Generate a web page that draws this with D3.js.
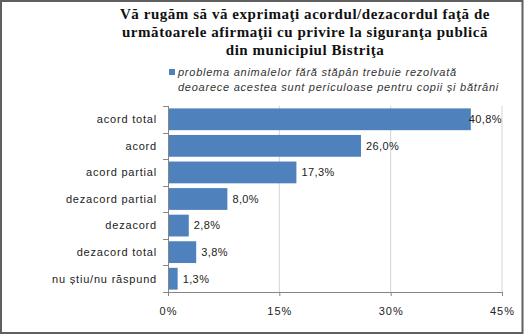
<!DOCTYPE html>
<html>
<head>
<meta charset="utf-8">
<script src="https://cdn.jsdelivr.net/npm/d3@7"></script>
<style>
  html, body { margin: 0; padding: 0; background: #fff; }
  svg { display: block; }
</style>
</head>
<body>
<svg id="chart" width="524" height="335"></svg>
<script>
// Survey answers and their shares (percent)
const categories = ["acord total", "acord", "acord partial", "dezacord partial", "dezacord", "dezacord total", "nu știu/nu răspund"];
const values = [40.8, 26.0, 17.3, 8.0, 2.8, 3.8, 1.3];
const tickValues = [0, 15, 30, 45];
const titleLines = [
  "Vă rugăm să vă exprimaţi acordul/dezacordul faţă de",
  "următoarele afirmaţii cu privire la siguranţa publică",
  "din municipiul Bistriţa"
];
const seriesName = [
  "problema animalelor fără stăpân trebuie rezolvată",
  "deoarece acestea sunt periculoase pentru copii și bătrâni"
];

const svg = d3.select("#chart");
const W = 524, H = 335;
const plot = { left: 168, right: 502, top: 106, bottom: 292 };
const barColor = "#4F81BD";
const labelFont = "'Liberation Sans', Arial, sans-serif";

// outer frame
svg.append("rect")
  .attr("x", 1).attr("y", 1).attr("width", W - 2.5).attr("height", H - 3)
  .attr("fill", "#fff").attr("stroke", "#5f5f5f").attr("stroke-width", 2);

// title
svg.append("g").selectAll("text").data(titleLines).join("text")
  .attr("x", 305).attr("y", (d, i) => 19 + i * 18)
  .attr("text-anchor", "middle")
  .attr("font-family", "'Liberation Serif', 'Times New Roman', serif")
  .attr("font-weight", "bold").attr("font-size", 15)
  .attr("letter-spacing", 0.55)
  .attr("fill", "#111")
  .text(d => d);

// legend
svg.append("rect").attr("x", 169).attr("y", 69).attr("width", 6).attr("height", 6).attr("fill", barColor);
svg.append("g").selectAll("text").data(seriesName).join("text")
  .attr("x", 178).attr("y", (d, i) => 76 + i * 14.5)
  .attr("font-family", labelFont).attr("font-style", "italic").attr("font-size", 11)
  .attr("letter-spacing", 0.75)
  .attr("fill", "#333")
  .text(d => d);

const x = d3.scaleLinear().domain([0, 45]).range([plot.left, plot.right]);
const y = d3.scaleBand().domain(categories).range([plot.top, plot.bottom]).paddingInner(0.18).paddingOuter(0.09);

// vertical gridlines
svg.append("g").selectAll("line").data(tickValues.filter(t => t > 0)).join("line")
  .attr("x1", d => x(d)).attr("x2", d => x(d))
  .attr("y1", plot.top).attr("y2", plot.bottom)
  .attr("stroke", "#d4d4d4").attr("stroke-width", 1);

// bars
svg.append("g").selectAll("rect").data(values).join("rect")
  .attr("x", x(0))
  .attr("y", (d, i) => y(categories[i]))
  .attr("width", d => x(d) - x(0))
  .attr("height", y.bandwidth())
  .attr("fill", barColor);

// bottom axis
const xAxis = svg.append("g")
  .attr("transform", `translate(0,${plot.bottom})`)
  .call(d3.axisBottom(x).tickValues(tickValues).tickSize(4).tickPadding(11)
    .tickFormat(d => d + "%"));
xAxis.select(".domain").attr("stroke", "#868686");
xAxis.selectAll(".tick line").attr("stroke", "#868686");
xAxis.selectAll(".tick text")
  .attr("font-family", labelFont).attr("font-size", 11).attr("fill", "#222")
  .attr("letter-spacing", 1);

// left category axis with boundary ticks
const yAxis = svg.append("g").attr("transform", `translate(${plot.left},0)`);
yAxis.append("line")
  .attr("x1", 0.5).attr("x2", 0.5).attr("y1", plot.top).attr("y2", plot.bottom + 4)
  .attr("stroke", "#868686");
const bounds = d3.range(categories.length + 1).map(i => plot.top + i * (plot.bottom - plot.top) / categories.length);
yAxis.selectAll("line.b").data(bounds).join("line").attr("class", "b")
  .attr("x1", -5).attr("x2", 0.5).attr("y1", d => Math.round(d) + 0.5).attr("y2", d => Math.round(d) + 0.5)
  .attr("stroke", "#868686");
yAxis.selectAll("text").data(categories).join("text")
  .attr("x", -11).attr("y", d => y(d) + y.bandwidth() / 2)
  .attr("dy", "0.35em").attr("text-anchor", "end")
  .attr("font-family", labelFont).attr("font-size", 11).attr("fill", "#222")
  .attr("letter-spacing", 0.8)
  .text(d => d);

// value labels
const fmt = v => v.toFixed(1).replace(".", ",") + "%";
svg.append("g").selectAll("text").data(values).join("text")
  .attr("y", (d, i) => y(categories[i]) + y.bandwidth() / 2)
  .attr("dy", "0.35em")
  .attr("font-family", labelFont).attr("font-size", 11).attr("fill", "#222")
  .attr("letter-spacing", 0.4)
  .text(d => fmt(d))
  .attr("x", function (d) {
    const w = this.getComputedTextLength();
    return Math.min(x(d) + 5, plot.right - w);
  });
</script>
</body>
</html>
